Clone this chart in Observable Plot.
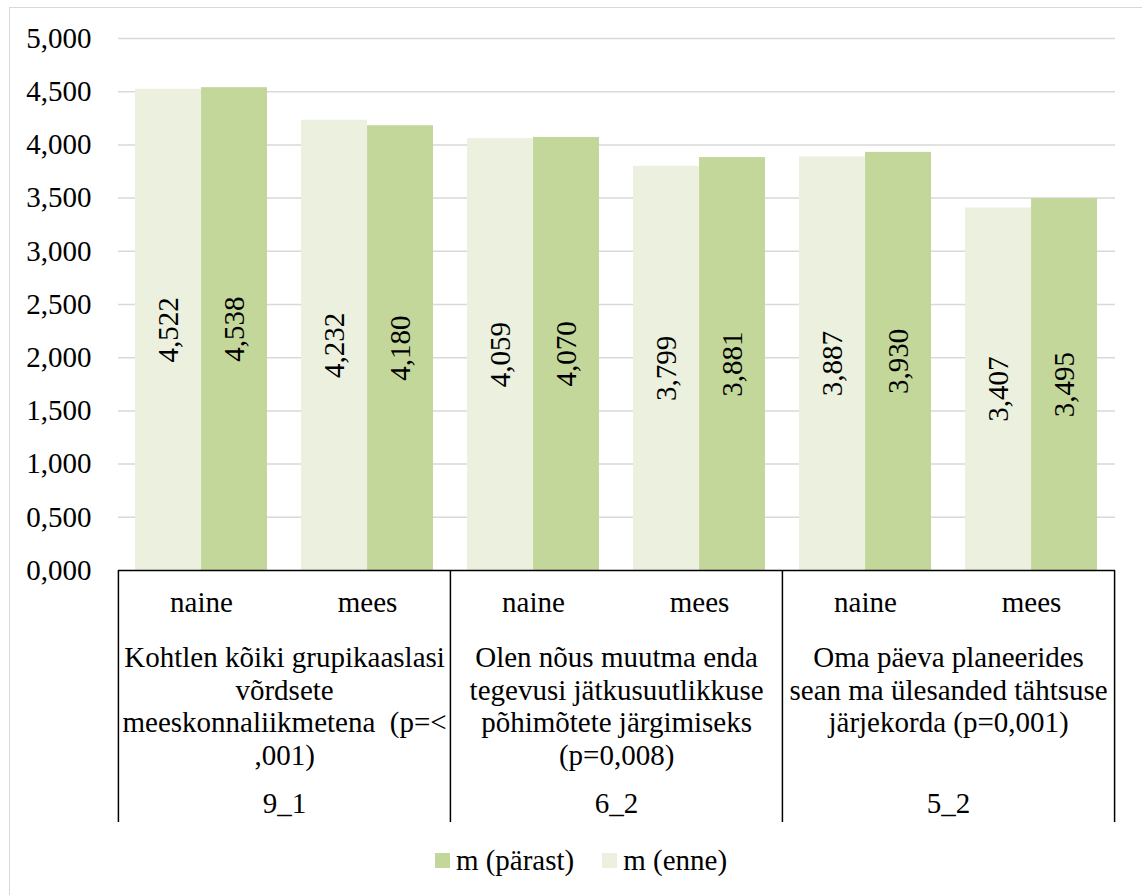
<!DOCTYPE html>
<html>
<head>
<meta charset="utf-8">
<script src="https://cdn.jsdelivr.net/npm/d3@7"></script>
<script src="https://cdn.jsdelivr.net/npm/@observablehq/plot@0.6"></script>
</head>
<body style="margin:0;padding:0;background:#fff;overflow:hidden">
<div id="wrap" style="position:relative;width:1142px;height:895px">
  <div id="frame" style="position:absolute;left:9px;top:7px;width:1200px;height:1000px;border:1px solid #d9d9d9;box-sizing:border-box"></div>
  <div id="chart" style="position:absolute;left:0;top:0"></div>
  <div id="legend" style="position:absolute;left:10px;top:844px;width:1142px;height:32px;display:flex;justify-content:center;align-items:center;font-size:29px;color:#000"></div>
</div>
<script>
// ---- data ----
const questions = ["9_1", "6_2", "5_2"];
const questionTexts = [
  "Kohtlen kõiki grupikaaslasi\nvõrdsete\nmeeskonnaliikmetena\u00a0 (p=<\n,001)",
  "Olen nõus muutma enda\ntegevusi jätkusuutlikkuse\npõhimõtete järgimiseks\n(p=0,008)",
  "Oma päeva planeerides\nsean ma ülesanded tähtsuse\njärjekorda (p=0,001)"
];
const genders = ["naine", "mees"];
const seriesNames = ["m (enne)", "m (pärast)"];
const seriesColors = ["#EBF1DE", "#C4D79B"];
const enne   = [4.522, 4.232, 4.059, 3.799, 3.887, 3.407];
const parast = [4.538, 4.180, 4.070, 3.881, 3.930, 3.495];
const yTicks = [0, 0.5, 1, 1.5, 2, 2.5, 3, 3.5, 4, 4.5, 5];

// ---- tables built from the arrays ----
const groups = [];
questions.forEach(q => genders.forEach(g => groups.push(q + "|" + g)));
const rows = [];
groups.forEach((key, i) => {
  const [q, g] = key.split("|");
  rows.push({key, q, g, series: seriesNames[0], value: enne[i]});
  rows.push({key, q, g, series: seriesNames[1], value: parast[i]});
});
const qRows = questions.map((q, i) => ({q, text: questionTexts[i], left: q + "|naine", right: q + "|mees"}));
const gRows = groups.map(key => ({key, g: key.split("|")[1]}));

const fmt = v => v.toFixed(3).replace(".", ",");
const FONT = "'Liberation Serif', 'Times New Roman', Times, monospace";
document.body.style.fontFamily = FONT;

// ---- layout ----
const W = 1142, H = 830;
const mL = 118, mR = 27, mT = 38, mB = 260;
const pad = 0.2048;
const step = (W - mL - mR) / groups.length;
const bw = step * (1 - pad);
const FS = 29;
const frameH = H - mT - mB;

const enneRows = rows.filter(d => d.series === seriesNames[0]);
const parastRows = rows.filter(d => d.series === seriesNames[1]);
const T = {fontSize: FS, fontFamily: FONT, fill: "#000"};

const plot = Plot.plot({
  width: W,
  height: H,
  marginLeft: mL,
  marginRight: mR,
  marginTop: mT,
  marginBottom: mB,
  style: {fontFamily: FONT, fontSize: FS + "px", color: "#000", background: "transparent", overflow: "visible"},
  x: {type: "band", domain: groups, paddingInner: pad, paddingOuter: pad / 2, axis: null},
  y: {domain: [0, 5], axis: null},
  marks: [
    Plot.gridY(yTicks.filter(t => t > 0), {stroke: "#d9d9d9", strokeOpacity: 1, strokeWidth: 1.5}),
    Plot.axisY(yTicks, {tickSize: 0, tickPadding: 27, tickFormat: fmt, fontSize: FS, fontFamily: FONT, anchor: "left", label: null}),
    Plot.barY(enneRows, {x: "key", y: "value", fill: seriesColors[0], insetRight: bw / 2}),
    Plot.barY(parastRows, {x: "key", y: "value", fill: seriesColors[1], insetLeft: bw / 2}),
    Plot.text(enneRows, {...T, x: "key", y: d => d.value / 2, text: d => fmt(d.value), rotate: -90, dx: -bw / 4}),
    Plot.text(parastRows, {...T, x: "key", y: d => d.value / 2, text: d => fmt(d.value), rotate: -90, dx: bw / 4}),
    Plot.ruleY([0], {stroke: "#000", strokeWidth: 1.5}),
    // table: separators
    Plot.ruleX(qRows, {x: "left", dx: -step / 2, stroke: "#000", strokeWidth: 1.5, insetTop: frameH, insetBottom: -252}),
    Plot.ruleX(qRows.slice(-1), {x: "right", dx: step / 2, stroke: "#000", strokeWidth: 1.5, insetTop: frameH, insetBottom: -252}),
    // table: gender row
    Plot.text(gRows, {...T, x: "key", text: "g", frameAnchor: "bottom", dy: 32, lineAnchor: "middle"}),
    // table: question text row
    Plot.text(qRows, {...T, x: "left", text: "text", frameAnchor: "bottom", dx: step / 2, dy: 73, lineAnchor: "top", lineHeight: 1.13}),
    // table: code row
    Plot.text(qRows, {...T, x: "left", text: "q", frameAnchor: "bottom", dx: step / 2, dy: 233, lineAnchor: "middle"})
  ]
});
document.getElementById("chart").appendChild(plot);

// ---- legend (order as in reference) ----
const legend = document.getElementById("legend");
legend.style.fontFamily = FONT;
[1, 0].forEach(i => {
  const item = document.createElement("div");
  item.style.cssText = "display:flex;align-items:center;margin:0 14px";
  const sw = document.createElement("div");
  sw.style.cssText = "width:15px;height:15px;margin-right:6px;background:" + seriesColors[i];
  const lab = document.createElement("span");
  lab.textContent = seriesNames[i];
  lab.style.fontFamily = FONT;
  item.appendChild(sw);
  item.appendChild(lab);
  legend.appendChild(item);
});
</script>
</body>
</html>
